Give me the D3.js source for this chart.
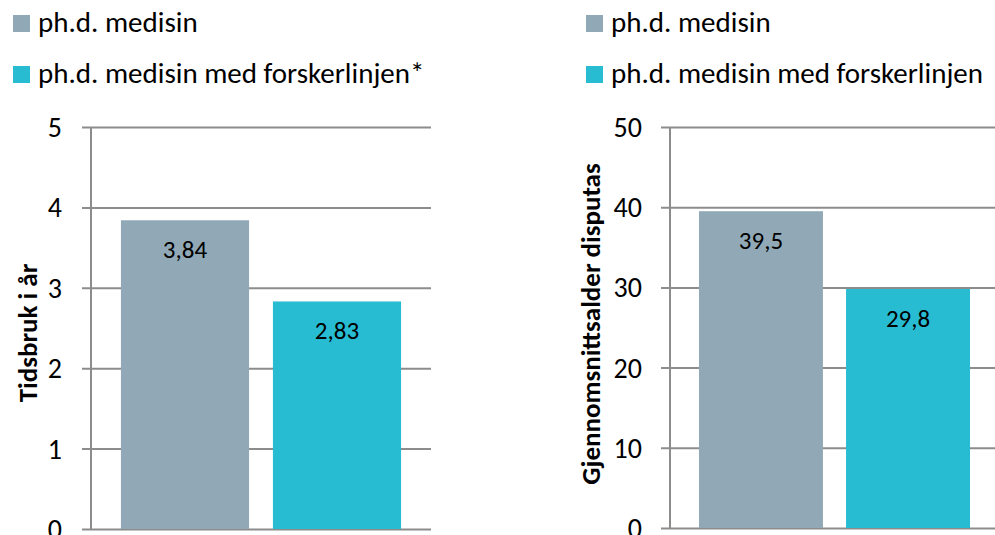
<!DOCTYPE html>
<html>
<head>
<meta charset="utf-8">
<script src="https://cdn.jsdelivr.net/npm/d3@7"></script>
<style>
  body { margin: 0; background: #fff; }
  text { font-family: Carlito, Calibri, "Open Sans", sans-serif; }
</style>
</head>
<body>
<div id="my_dataviz"></div>
<script>
// data
var seriesNames = ["ph.d. medisin", "ph.d. medisin med forskerlinjen"];
var seriesColors = ["#91a9b6", "#27bcd2"];
var tidsbruk = [3.84, 2.83];
var alder = [39.5, 29.8];
var tidsbrukTicks = [0, 1, 2, 3, 4, 5];
var alderTicks = [0, 10, 20, 30, 40, 50];
var legendLeft = ["ph.d. medisin", "ph.d. medisin med forskerlinjen*"];
var legendRight = ["ph.d. medisin", "ph.d. medisin med forskerlinjen"];

var svg = d3.select("#my_dataviz")
  .append("svg")
    .attr("width", 995)
    .attr("height", 535);

function fmt(v) { return String(v).replace(".", ","); }

function drawPanel(opt) {
  var g = svg.append("g");

  var y = d3.scaleLinear()
    .domain([0, d3.max(opt.ticks)])
    .range([opt.bottom, opt.top]);

  var x = d3.scaleBand()
    .domain(seriesNames)
    .range([opt.left, opt.right])
    .paddingInner(0.157)
    .paddingOuter(0.197);

  // grid + ticks
  var axis = g.append("g")
    .attr("transform", "translate(" + opt.left + ",0)")
    .call(d3.axisLeft(y).tickValues(opt.ticks).tickFormat(d3.format("d")).tickSize(0).tickPadding(opt.pad));
  axis.select(".domain").remove();
  axis.selectAll(".tick line")
    .attr("x1", -9)
    .attr("x2", opt.right - opt.left)
    .attr("stroke", "#8c8c8c")
    .attr("stroke-width", 2);
  axis.selectAll(".tick text")
    .style("font-size", "28px")
    .attr("fill", "#000")
    .attr("dy", "0.34em");

  // vertical axis line
  g.append("line")
    .attr("x1", opt.left).attr("x2", opt.left)
    .attr("y1", y(d3.max(opt.ticks))).attr("y2", y(0))
    .attr("stroke", "#8c8c8c")
    .attr("stroke-width", 2);

  // bars
  g.selectAll("rect.bar")
    .data(opt.values)
    .enter()
    .append("rect")
      .attr("class", "bar")
      .attr("x", function(d, i) { return x(seriesNames[i]); })
      .attr("width", x.bandwidth())
      .attr("y", function(d) { return y(d); })
      .attr("height", function(d) { return y(0) - y(d); })
      .attr("fill", function(d, i) { return seriesColors[i]; });

  // value labels
  g.selectAll("text.val")
    .data(opt.values)
    .enter()
    .append("text")
      .attr("class", "val")
      .attr("x", function(d, i) { return x(seriesNames[i]) + x.bandwidth() / 2; })
      .attr("y", function(d) { return y(d) + 38; })
      .attr("text-anchor", "middle")
      .style("font-size", "25px")
      .attr("fill", "#000")
      .text(function(d) { return fmt(d); });

  // axis title
  g.append("text")
    .attr("transform", "translate(" + opt.titleX + "," + opt.titleY + ") rotate(-90)")
    .attr("text-anchor", "middle")
    .style("font-size", "27px")
    .style("font-weight", "bold")
    .attr("fill", "#000")
    .text(opt.title);

  // legend
  var leg = g.selectAll("g.leg")
    .data(opt.legend)
    .enter()
    .append("g")
      .attr("class", "leg")
      .attr("transform", function(d, i) { return "translate(" + opt.legendX + "," + (32 + i * 51) + ")"; });
  leg.append("rect")
    .attr("x", 0).attr("y", -17)
    .attr("width", 17).attr("height", 17)
    .attr("fill", function(d, i) { return seriesColors[i]; });
  leg.append("text")
    .attr("x", 25)
    .attr("y", 0)
    .style("font-size", "29px")
    .attr("fill", "#000")
    .text(function(d) { return d; });
}

drawPanel({
  values: tidsbruk, ticks: tidsbrukTicks, title: "Tidsbruk i år",
  left: 91, right: 431, top: 127, bottom: 529, pad: 29,
  titleX: 37, titleY: 333, legendX: 13, legend: legendLeft
});

drawPanel({
  values: alder, ticks: alderTicks, title: "Gjennomsnittsalder disputas",
  left: 670, right: 999, top: 127, bottom: 528, pad: 28,
  titleX: 600, titleY: 324, legendX: 586, legend: legendRight
});
</script>
</body>
</html>
